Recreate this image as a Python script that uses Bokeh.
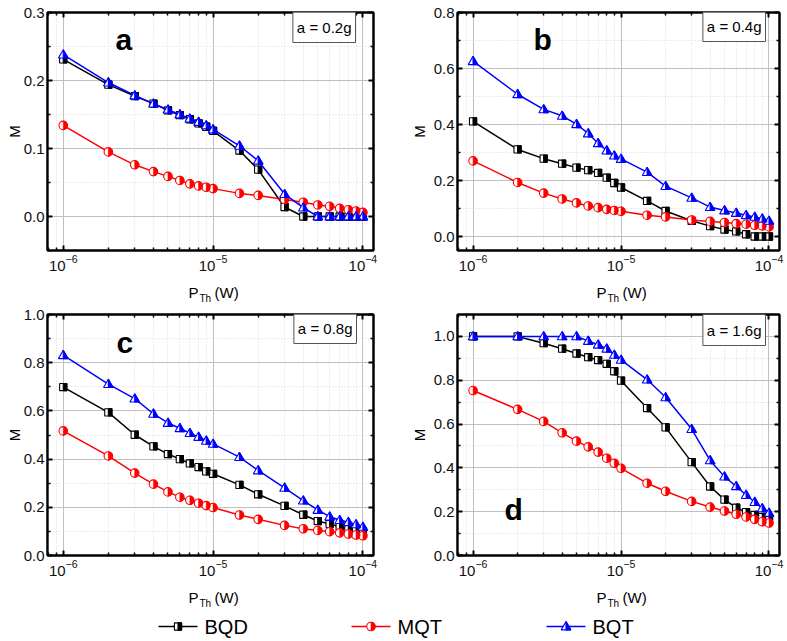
import math
from bokeh.plotting import figure
from bokeh.models import (Range1d, FixedTicker, LogAxis, LinearAxis, Label,
                          NumeralTickFormatter, CustomJSTickFormatter)
from bokeh.layouts import column, row
from bokeh.embed import file_html
from bokeh.resources import INLINE

# ---------------- data ----------------
P_W = [1e-6, 2e-6, 3e-6, 4e-6, 5e-6, 6e-6, 7e-6, 8e-6, 9e-6, 1e-5,
       1.5e-5, 2e-5, 3e-5, 4e-5, 5e-5, 6e-5, 7e-5, 8e-5, 9e-5, 1e-4]

SERIES = ["BQD", "MQT", "BQT"]

bqd_a = [0.231, 0.194, 0.177, 0.166, 0.156, 0.149, 0.143, 0.137, 0.132, 0.126,
         0.097, 0.069, 0.014, 0.0, 0.0, 0.0, 0.0, 0.0, 0.0, 0.0]
mqt_a = [0.134, 0.095, 0.076, 0.066, 0.059, 0.053, 0.048, 0.045, 0.043, 0.041,
         0.034, 0.031, 0.025, 0.021, 0.017, 0.015, 0.012, 0.010, 0.008, 0.006]
bqt_a = [0.238, 0.197, 0.178, 0.166, 0.157, 0.150, 0.144, 0.139, 0.134, 0.128,
         0.104, 0.082, 0.033, 0.013, 0.0, 0.0, 0.0, 0.0, 0.0, 0.0]

bqd_b = [0.411, 0.311, 0.278, 0.260, 0.246, 0.237, 0.227, 0.210, 0.191, 0.175,
         0.127, 0.091, 0.056, 0.037, 0.025, 0.018, 0.008, 0.0, 0.0, 0.0]
mqt_b = [0.270, 0.193, 0.155, 0.134, 0.120, 0.109, 0.103, 0.097, 0.093, 0.090,
         0.076, 0.070, 0.059, 0.054, 0.050, 0.046, 0.044, 0.040, 0.038, 0.034]
bqt_b = [0.626, 0.508, 0.454, 0.431, 0.401, 0.368, 0.333, 0.307, 0.289, 0.277,
         0.230, 0.180, 0.138, 0.105, 0.093, 0.084, 0.076, 0.070, 0.064, 0.056]

bqd_c = [0.699, 0.594, 0.501, 0.453, 0.421, 0.400, 0.382, 0.367, 0.349, 0.339,
         0.293, 0.254, 0.206, 0.169, 0.143, 0.131, 0.119, 0.111, 0.106, 0.100]
mqt_c = [0.517, 0.413, 0.342, 0.296, 0.264, 0.242, 0.229, 0.217, 0.207, 0.199,
         0.168, 0.150, 0.125, 0.111, 0.104, 0.099, 0.094, 0.089, 0.085, 0.082]
bqt_c = [0.831, 0.711, 0.651, 0.588, 0.550, 0.528, 0.508, 0.492, 0.476, 0.463,
         0.408, 0.353, 0.281, 0.228, 0.189, 0.161, 0.147, 0.138, 0.129, 0.119]

bqd_d = [1.0, 1.0, 0.969, 0.944, 0.922, 0.905, 0.892, 0.875, 0.841, 0.798,
         0.673, 0.585, 0.426, 0.315, 0.255, 0.218, 0.198, 0.185, 0.176, 0.168]
mqt_d = [0.753, 0.667, 0.612, 0.560, 0.522, 0.496, 0.472, 0.444, 0.421, 0.398,
         0.330, 0.293, 0.247, 0.221, 0.203, 0.188, 0.176, 0.165, 0.154, 0.148]
bqt_d = [1.0, 1.0, 1.0, 1.0, 1.0, 0.979, 0.962, 0.944, 0.916, 0.893,
         0.803, 0.722, 0.577, 0.434, 0.360, 0.316, 0.276, 0.244, 0.215, 0.194]

panel_letters = ["a", "b", "c", "d"]
accel_labels = ["a = 0.2g", "a = 0.4g", "a = 0.8g", "a = 1.6g"]
x_major_ticks = [1e-6, 1e-5, 1e-4]
x_minor_ticks = [8e-7, 9e-7] + [k * 1e-6 for k in range(2, 10)] + [k * 1e-5 for k in range(2, 10)]

# ---------------- styling ----------------
FONT = "Liberation Sans"
COLORS = {"BQD": "#000000", "MQT": "#ff0000", "BQT": "#0000ff"}
KINDS = {"BQD": "square", "MQT": "circle", "BQT": "triangle"}
XMIN, XMAX = 10 ** -6.105, 10 ** -3.929

PANELS = [
    dict(letter=panel_letters[0], acc=accel_labels[0], data=[bqd_a, mqt_a, bqt_a],
         ylo=-0.05, yhi=0.3, yt=[0.0, 0.1, 0.2, 0.3], ym=[-0.05, 0.05, 0.15, 0.25],
         fw=326, fh=238, mb=(47, 5, 12, 30), lab_so=-2, let=(68, 211), box_in=(11, 6)),
    dict(letter=panel_letters[1], acc=accel_labels[1], data=[bqd_b, mqt_b, bqt_b],
         ylo=-0.05, yhi=0.8, yt=[0.0, 0.2, 0.4, 0.6, 0.8], ym=[0.1, 0.3, 0.5, 0.7],
         fw=322, fh=238, mb=(79, 8, 12, 30), lab_so=3, let=(76, 211), box_in=(7, 5)),
    dict(letter=panel_letters[2], acc=accel_labels[2], data=[bqd_c, mqt_c, bqt_c],
         ylo=0.0, yhi=1.0, yt=[0.0, 0.2, 0.4, 0.6, 0.8, 1.0], ym=[0.1, 0.3, 0.5, 0.7, 0.9],
         fw=326, fh=241, mb=(47, 5, 10, 28), lab_so=-2, let=(69, 213), box_in=(10, 5)),
    dict(letter=panel_letters[3], acc=accel_labels[3], data=[bqd_d, mqt_d, bqt_d],
         ylo=0.0, yhi=1.1, yt=[0.0, 0.2, 0.4, 0.6, 0.8, 1.0], ym=[0.1, 0.3, 0.5, 0.7, 0.9],
         fw=322, fh=241, mb=(79, 8, 10, 28), lab_so=3, let=(47, 46), box_in=(7, 7)),
]


def draw_series(p, xs, ys, name, fx, fy, lw=1.5):
    color = COLORS[name]
    kind = KINDS[name]
    if lw > 0:
        p.line(xs, ys, line_color=color, line_width=lw)
    if kind == "circle":
        p.scatter(xs, ys, marker="circle", size=8.5, fill_color="white",
                  line_color=color, line_width=1.1)
        p.wedge(x=xs, y=ys, radius=4.25, radius_units="screen",
                start_angle=-math.pi / 2, end_angle=math.pi / 2,
                fill_color=color, line_color=color, line_width=0.5)
        return
    fx_full, fy_full, fx_half, fy_half = [], [], [], []
    for x, y in zip(xs, ys):
        if kind == "square":
            h = 3.6
            fx_full.append([fx(x, -h), fx(x, h), fx(x, h), fx(x, -h)])
            fy_full.append([fy(y, -h), fy(y, -h), fy(y, h), fy(y, h)])
            fx_half.append([fx(x, 0), fx(x, h), fx(x, h), fx(x, 0)])
            fy_half.append([fy(y, -h), fy(y, -h), fy(y, h), fy(y, h)])
        else:
            w, top, bot = 4.8, 4.9, 3.4
            fx_full.append([fx(x, -w), fx(x, w), fx(x, 0)])
            fy_full.append([fy(y, -bot), fy(y, -bot), fy(y, top)])
            fx_half.append([fx(x, 0), fx(x, w), fx(x, 0)])
            fy_half.append([fy(y, -bot), fy(y, -bot), fy(y, top)])
    p.patches(fx_full, fy_full, fill_color="white", line_color=color, line_width=1.1)
    p.patches(fx_half, fy_half, fill_color=color, line_color=color, line_width=1.1)


def style_axis(ax):
    ax.major_tick_in = 5
    ax.major_tick_out = 0
    ax.minor_tick_in = 3
    ax.minor_tick_out = 0
    ax.major_tick_line_width = 2
    ax.minor_tick_line_width = 1.5
    ax.axis_line_width = 2
    ax.axis_line_color = "black"
    ax.major_tick_line_color = "black"
    ax.minor_tick_line_color = "black"


def make_panel(cfg):
    fw, fh = cfg["fw"], cfg["fh"]
    ml, mr, mt, mbm = cfg["mb"]
    ylo, yhi = cfg["ylo"], cfg["yhi"]
    p = figure(x_axis_type="log", x_range=Range1d(XMIN, XMAX), y_range=Range1d(ylo, yhi),
               frame_width=fw, frame_height=fh, min_border_left=ml, min_border_right=mr,
               min_border_top=mt, min_border_bottom=mbm, toolbar_location=None,
               output_backend="svg", background_fill_color="white", border_fill_color="white")
    p.outline_line_color = "black"
    p.outline_line_width = 2

    xt = FixedTicker(ticks=x_major_ticks, minor_ticks=x_minor_ticks)
    yt = FixedTicker(ticks=cfg["yt"], minor_ticks=cfg["ym"])
    xa = p.xaxis[0]
    ya = p.yaxis[0]
    xa.ticker = xt
    ya.ticker = yt
    ya.formatter = NumeralTickFormatter(format="0.0")
    for ax in (xa, ya):
        style_axis(ax)
        ax.major_label_text_font = FONT
        ax.major_label_text_color = "#111111"
    ya.major_label_text_font_size = "15px"
    ya.major_label_standoff = 3
    ya.axis_label = "M"
    ya.axis_label_text_font = FONT
    ya.axis_label_text_font_size = "15px"
    ya.axis_label_text_font_style = "normal"
    ya.axis_label_text_color = "black"
    ya.axis_label_standoff = cfg["lab_so"]
    xa.major_label_text_font_size = "15px"
    xa.major_label_standoff = 4

    # mirrored axes (ticks only)
    top = LogAxis(ticker=xt, formatter=CustomJSTickFormatter(code="return ''"))
    right = LinearAxis(ticker=yt, formatter=CustomJSTickFormatter(code="return ''"))
    for ax in (top, right):
        style_axis(ax)
        ax.major_label_text_font_size = "0px"
        ax.major_label_standoff = 0
    p.add_layout(top, "above")
    p.add_layout(right, "right")

    for g in (p.xgrid[0], p.ygrid[0]):
        g.grid_line_color = "#c0c0c0"
        g.grid_line_width = 1
        g.minor_grid_line_color = "#d8d8d8"
        g.minor_grid_line_dash = "1 2"
        g.minor_grid_line_width = 1
    p.xgrid[0].ticker = xt
    p.ygrid[0].ticker = yt

    dlog = (math.log10(XMAX) - math.log10(XMIN)) / fw
    dy = (yhi - ylo) / fh

    def fx(x, d):
        return x * 10 ** (d * dlog)

    def fy(y, d):
        return y + d * dy

    for name, ys in zip(SERIES, cfg["data"]):
        draw_series(p, P_W, ys, name, fx, fy)

    lx, ly = cfg["let"]
    p.add_layout(Label(x=lx, y=ly, x_units="screen", y_units="screen", text=cfg["letter"],
                       text_font=FONT, text_font_size="30px", text_font_style="bold",
                       text_color="black", text_align="left", text_baseline="alphabetic"))
    bx, by = cfg["box_in"]
    p.add_layout(Label(x=fw - bx - 7, y=fh - by + 7, x_units="screen", y_units="screen",
                       text=cfg["acc"], text_font=FONT, text_font_size="15px",
                       text_color="black", text_align="right", text_baseline="top",
                       padding=(4, 7), background_fill_color="white",
                       border_line_color="#555555", border_line_width=1))
    return p


def make_xlabel_strip(cfg, height, base):
    ml, mr = cfg["mb"][0], cfg["mb"][1]
    w = ml + cfg["fw"] + mr
    s = figure(width=w, height=height, x_range=Range1d(0, w), y_range=Range1d(0, height),
               min_border=0, toolbar_location=None, output_backend="svg",
               background_fill_color="white", border_fill_color="white")
    s.outline_line_color = None
    s.axis.visible = False
    s.grid.visible = False
    cx = ml + cfg["fw"] / 2
    s.add_layout(Label(x=cx - 22, y=base, text="P", text_font=FONT, text_font_size="15px",
                       text_color="black", text_align="left", text_baseline="alphabetic"))
    s.add_layout(Label(x=cx - 11, y=base - 6, text="Th", text_font=FONT, text_font_size="10px",
                       text_color="black", text_align="left", text_baseline="alphabetic"))
    s.add_layout(Label(x=cx + 4, y=base, text="(W)", text_font=FONT, text_font_size="15px",
                       text_color="black", text_align="left", text_baseline="alphabetic"))
    return s


panels = [make_panel(c) for c in PANELS]
strips_top = [make_xlabel_strip(PANELS[0], 24, 12), make_xlabel_strip(PANELS[1], 24, 12)]
strips_bot = [make_xlabel_strip(PANELS[2], 25, 11), make_xlabel_strip(PANELS[3], 25, 11)]

# ---------------- legend strip ----------------
LW, LH = 787, 32
leg = figure(width=LW, height=LH, x_range=Range1d(0, LW), y_range=Range1d(0, LH),
             min_border=0, toolbar_location=None, output_backend="svg",
             background_fill_color="white", border_fill_color="white")
leg.outline_line_color = None
leg.axis.visible = False
leg.grid.visible = False
LEG_X = {"BQD": 158, "MQT": 351, "BQT": 546}
LY = 14
for name in SERIES:
    x0 = LEG_X[name]
    leg.line([x0, x0 + 39], [LY, LY], line_color=COLORS[name], line_width=1.6)
    draw_series(leg, [x0 + 19.5], [LY], name, lambda x, d: x + d, lambda y, d: y + d, lw=0)
    leg.add_layout(Label(x=x0 + 46, y=LY, text=name, text_font=FONT, text_font_size="20px",
                         text_color="black", text_align="left", text_baseline="middle"))

layout = column(row(panels[0], panels[1]), row(*strips_top),
                row(panels[2], panels[3]), row(*strips_bot), leg)
open("out.html", "w").write(file_html(layout, INLINE))
